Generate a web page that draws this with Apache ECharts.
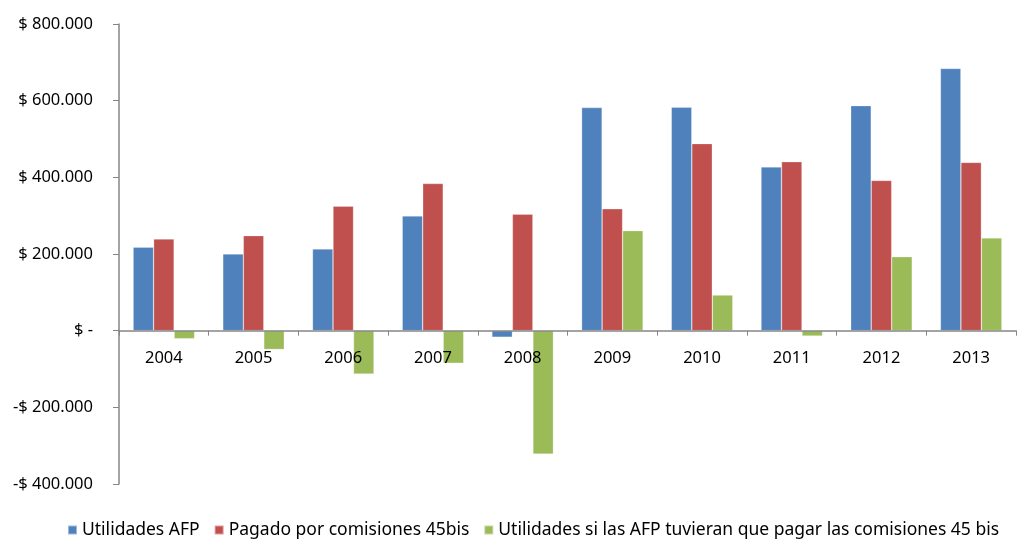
<!DOCTYPE html>
<html>
<head>
<meta charset="utf-8">
<script src="https://cdn.jsdelivr.net/npm/echarts@6/dist/echarts.min.js"></script>
<style>
    html, body { margin: 0; padding: 0; background: #fff; }
    #chart { width: 1019px; height: 539px; }
</style>
</head>
<body>
<div id="chart"></div>
<script>
// años
const years = ["2004", "2005", "2006", "2007", "2008", "2009", "2010", "2011", "2012", "2013"];
// valores en pesos
const utilidadesAfp = [218000, 200000, 213000, 299000, -17000, 582000, 583000, 427000, 587000, 684000];
const pagadoComisiones = [239000, 248000, 325000, 384000, 304000, 318000, 488000, 441000, 392000, 439000];
const utilidadesSiPagaran = [-21000, -49000, -113000, -85000, -322000, 261000, 93000, -14000, 193000, 242000];
const seriesNames = [
    "Utilidades AFP",
    "Pagado por comisiones 45bis",
    "Utilidades si las AFP tuvieran que pagar las comisiones 45 bis"
];
const colors = ["#4F81BD", "#C0504D", "#9BBB59"];

function fmtMoney(v) {
    if (v === 0) return "$ -";
    const s = Math.abs(v).toString().replace(/\B(?=(\d{3})+(?!\d))/g, ".");
    return (v < 0 ? "-$ " : "$ ") + s;
}

const chart = echarts.init(document.getElementById("chart"));
const font = "Noto Sans";

const dataSets = [utilidadesAfp, pagadoComisiones, utilidadesSiPagaran];
const series = dataSets.map((arr, i) => ({
    name: seriesNames[i],
    type: "bar",
    barWidth: 20.5,
    barGap: "0%",
    itemStyle: {
        color: colors[i],
        borderColor: "rgba(255,255,255,0.45)",
        borderWidth: 0.6
    },
    data: arr
}));

const option = {
    backgroundColor: "#fff",
    animation: false,
    color: colors,
    grid: {
        left: 119,
        right: 3,
        top: 24,
        bottom: 55,
        containLabel: false
    },
    legend: {
        bottom: -5,
        left: 62,
        icon: "rect",
        itemWidth: 9,
        itemHeight: 9,
        itemGap: 14,
        textStyle: {
            color: "#000",
            fontFamily: font,
            fontSize: 17.5
        },
        data: seriesNames
    },
    xAxis: {
        type: "category",
        data: years,
        z: 10,
        axisLine: {
            onZero: true,
            lineStyle: { color: "#868686", width: 1.5 }
        },
        axisTick: {
            show: true,
            inside: false,
            length: 5,
            lineStyle: { color: "#868686" }
        },
        axisLabel: {
            color: "#000",
            fontFamily: font,
            fontSize: 16.5,
            // etiquetas junto a la línea del cero, encima de las barras
            margin: -134
        },
        splitLine: { show: false }
    },
    yAxis: {
        type: "value",
        min: -400000,
        max: 800000,
        interval: 200000,
        axisLine: {
            show: true,
            lineStyle: { color: "#868686", width: 1.5 }
        },
        axisTick: {
            show: true,
            length: 6,
            lineStyle: { color: "#868686" }
        },
        axisLabel: {
            color: "#000",
            fontFamily: font,
            fontSize: 16.5,
            margin: 26,
            formatter: fmtMoney
        },
        splitLine: { show: false }
    },
    series
};
chart.setOption(option);
</script>
</body>
</html>
